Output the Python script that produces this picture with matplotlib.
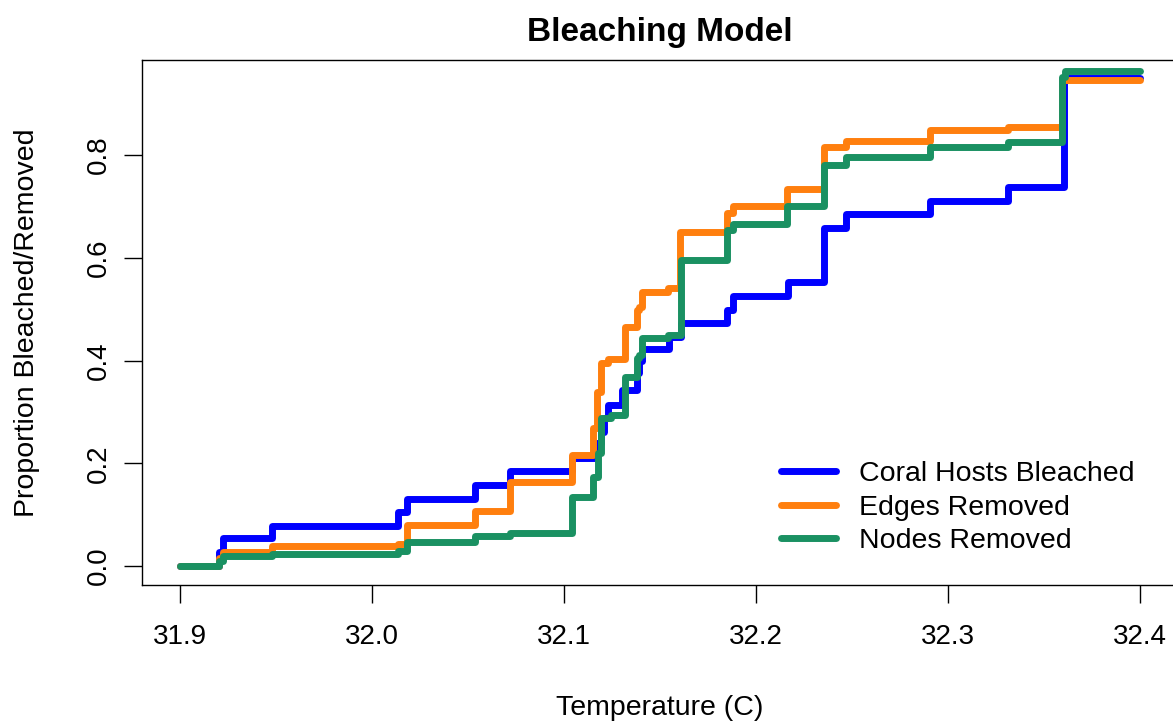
import matplotlib.pyplot as plt

plt.rcParams['font.family'] = ['Liberation Sans', 'DejaVu Sans']

# Step data (temperature, proportion)
coral_t = [31.9, 31.920, 31.922, 31.948, 32.0135, 32.018, 32.0536, 32.072, 32.104,
           32.117, 32.119, 32.121, 32.123, 32.130, 32.138, 32.139, 32.1405, 32.1545,
           32.161, 32.185, 32.188, 32.2165, 32.2354, 32.247, 32.2906, 32.3314, 32.3605, 32.4]
coral_p = [0, 0.028, 0.054, 0.078, 0.105, 0.130, 0.157, 0.184, 0.21,
           0.24, 0.26, 0.288, 0.313, 0.342, 0.375, 0.40, 0.422, 0.446,
           0.474, 0.498, 0.526, 0.553, 0.657, 0.685, 0.71, 0.737, 0.95, 0.95]

edges_t = [31.9, 31.920, 31.922, 31.948, 32.0135, 32.018, 32.0536, 32.072, 32.104,
           32.115, 32.117, 32.119, 32.123, 32.132, 32.138, 32.139, 32.1405, 32.154,
           32.1604, 32.1847, 32.188, 32.216, 32.2354, 32.247, 32.2906, 32.3314, 32.3594, 32.4]
edges_p = [0, 0.015, 0.028, 0.039, 0.043, 0.08, 0.107, 0.164, 0.216,
           0.268, 0.339, 0.395, 0.403, 0.466, 0.498, 0.505, 0.534, 0.541,
           0.651, 0.688, 0.70, 0.733, 0.816, 0.828, 0.849, 0.855, 0.946, 0.946]

nodes_t = [31.9, 31.920, 31.922, 31.948, 32.0135, 32.018, 32.0536, 32.072, 32.104,
           32.115, 32.1175, 32.119, 32.1245, 32.132, 32.138, 32.139, 32.1405, 32.154,
           32.161, 32.1847, 32.188, 32.216, 32.2354, 32.247, 32.2906, 32.3314, 32.3594, 32.361, 32.4]
nodes_p = [0, 0.01, 0.019, 0.023, 0.03, 0.047, 0.058, 0.064, 0.135,
           0.174, 0.22, 0.288, 0.294, 0.368, 0.405, 0.411, 0.444, 0.45,
           0.596, 0.654, 0.665, 0.70, 0.78, 0.797, 0.815, 0.826, 0.952, 0.964, 0.964]

series = [
    (coral_t, coral_p, '#0000FF', 'Coral Hosts Bleached'),
    (edges_t, edges_p, '#FF7F0E', 'Edges Removed'),
    (nodes_t, nodes_p, '#1A9162', 'Nodes Removed'),
]

fig = plt.figure(figsize=(11.73, 7.23), dpi=100)
ax = fig.add_axes([142 / 1173, 1 - 585 / 723, 1036 / 1173, 525 / 723])

for t, p, c, lab in series:
    ax.plot(t, p, drawstyle='steps-post', color=c, lw=5, label=lab,
            solid_capstyle='round')

ax.set_xlim(31.88, 32.42)
ax.set_ylim(-0.037, 0.985)
ax.set_xticks([31.9, 32.0, 32.1, 32.2, 32.3, 32.4])
ax.set_xticklabels(['31.9', '32.0', '32.1', '32.2', '32.3', '32.4'])
ax.set_yticks([0.0, 0.2, 0.4, 0.6, 0.8])
ax.set_yticklabels(['0.0', '0.2', '0.4', '0.6', '0.8'], rotation=90, va='center')
ax.tick_params(axis='x', length=13, width=1, pad=15, labelsize=20)
ax.tick_params(axis='y', length=13, width=1, pad=9, labelsize=20)
for s in ax.spines.values():
    s.set_linewidth(1)

ax.set_title('Bleaching Model', fontsize=24, fontweight='bold', pad=14)
ax.set_xlabel('Temperature (C)', fontsize=20.5, va='center')
ax.set_ylabel('Proportion Bleached/Removed', fontsize=20.5, va='center')
ax.xaxis.set_label_coords(0.5, (585 - 708) / 525)
ax.yaxis.set_label_coords((27 - 142) / 1036, 0.5)

ax.legend(loc='upper left', bbox_to_anchor=(628 / 1036, (585 - 450) / 525),
          frameon=False, fontsize=20.5, handlelength=1.93, handletextpad=0.8,
          labelspacing=0.25, borderaxespad=0)

fig.savefig('out.png', dpi=100)
